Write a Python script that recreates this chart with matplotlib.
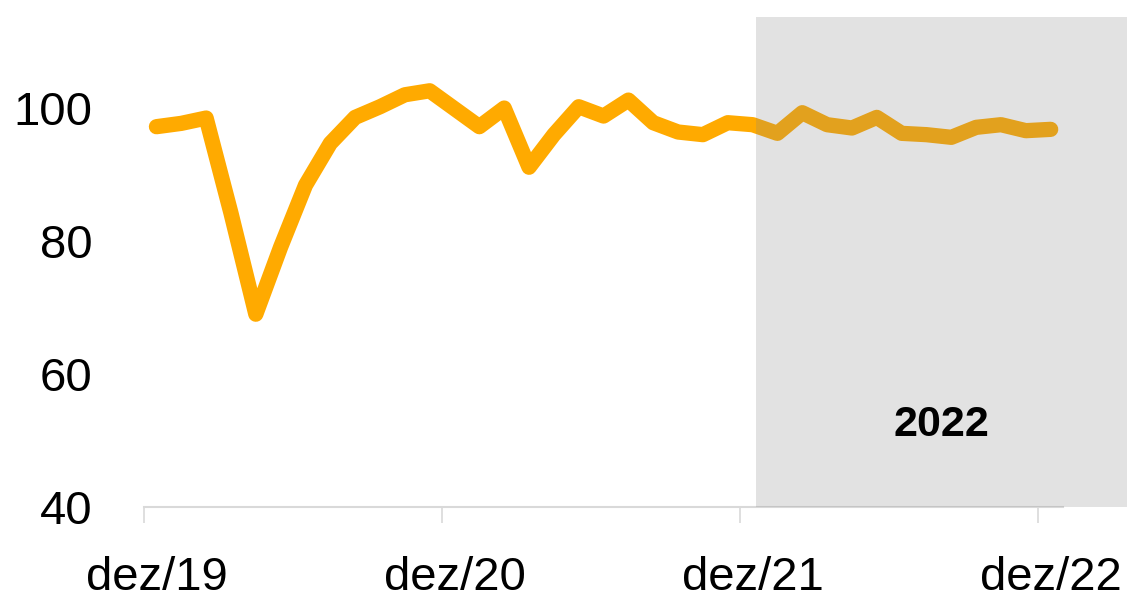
import matplotlib.pyplot as plt
from matplotlib.patches import Rectangle

# Índice mensal, dez/19 a dez/22
months = ["dez/19", "jan/20", "fev/20", "mar/20", "abr/20", "mai/20", "jun/20",
          "jul/20", "ago/20", "set/20", "out/20", "nov/20", "dez/20",
          "jan/21", "fev/21", "mar/21", "abr/21", "mai/21", "jun/21",
          "jul/21", "ago/21", "set/21", "out/21", "nov/21", "dez/21",
          "jan/22", "fev/22", "mar/22", "abr/22", "mai/22", "jun/22",
          "jul/22", "ago/22", "set/22", "out/22", "nov/22", "dez/22"]
values = [97.2, 97.7, 98.5, 84.2, 69.0, 79.1, 88.4, 94.7, 98.6, 100.2, 102.0, 102.6,
          99.9, 97.2, 100.0, 91.1, 96.0, 100.2, 98.8, 101.2, 97.8, 96.4, 96.0, 97.8,
          97.5, 96.2, 99.3, 97.5, 97.0, 98.6, 96.2, 96.0, 95.6, 97.1, 97.5, 96.6, 96.8]
tick_labels = ["dez/19", "dez/20", "dez/21", "dez/22"]
highlight_label = "2022"

plt.rcParams['font.family'] = ['Liberation Sans', 'DejaVu Sans']

fig = plt.figure(figsize=(11.27, 6), dpi=100)
ax = fig.add_axes([0.1278, 0.155, 0.8155, 0.8167])

x = list(range(len(values)))
ax.plot(x, values, color='#FFAA00', linewidth=11,
        solid_joinstyle='round', solid_capstyle='round', zorder=2)

# faixa cinza do ano de 2022
ax.add_patch(Rectangle((24.12, 40), 15, 73.7, facecolor='#848484', alpha=0.23,
                       edgecolor='none', clip_on=False, zorder=3))
ax.text(31.6, 52.3, highlight_label, fontsize=31, fontweight='bold',
        ha='center', va='center', zorder=4)

ax.set_xlim(-0.5, len(values) - 0.5)
ax.set_ylim(40, 113.7)

ax.set_yticks([40, 60, 80, 100])
ax.tick_params(axis='y', length=0, pad=37, labelsize=34)

label_pos = [months.index(t) for t in tick_labels]
ax.set_xticks([p - 0.5 for p in label_pos])
ax.set_xticklabels([])
ax.set_xticks(label_pos, minor=True)
ax.set_xticklabels(tick_labels, minor=True)
ax.tick_params(axis='x', which='major', length=11.5, width=1.2, color='#D9D9D9')
ax.tick_params(axis='x', which='minor', length=0, pad=35, labelsize=34)

for s in ['top', 'right', 'left']:
    ax.spines[s].set_visible(False)
ax.spines['bottom'].set_color('#D9D9D9')
ax.spines['bottom'].set_linewidth(1.5)

fig.savefig('out.png', dpi=100)
